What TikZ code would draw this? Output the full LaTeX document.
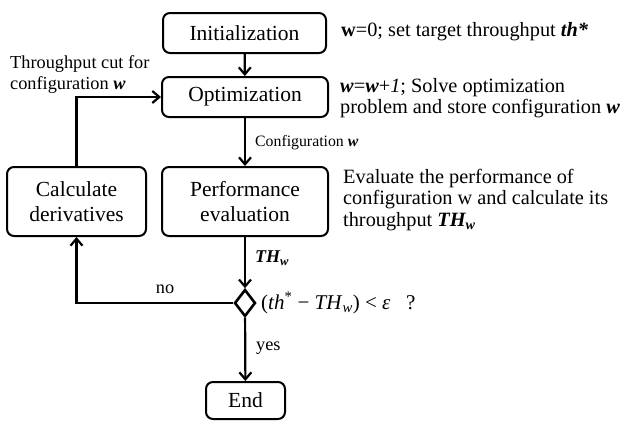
\documentclass[tikz,border=0pt]{standalone}
\usepackage{fix-cm}
\usepackage{fontspec}
\setmainfont{Liberation Serif}
\usetikzlibrary{arrows.meta,shapes.geometric}
\begin{document}
\begin{tikzpicture}[x=1pt,y=-1pt,
  box/.style={draw,line width=2pt,rounded corners=7pt,align=center,inner sep=0pt,font=\fontsize{21.5}{25}\selectfont},
  conn/.style={line width=2.2pt,-{Straight Barb[length=7pt,width=12pt]}},
  side/.style={anchor=west,align=left,inner sep=0pt,font=\fontsize{20.3}{21.5}\selectfont},
  lab/.style={inner sep=0pt,font=\fontsize{18.3}{21}\selectfont}]
\useasboundingbox (0,0) rectangle (622,421);
\node[box,minimum width=163pt,minimum height=40pt] (init) at (244.5,33) {Initialization};
\node[box,minimum width=166pt,minimum height=40pt] (opt) at (245,97) {Optimization};
\node[box,minimum width=166pt,minimum height=69pt] (perf) at (245,201.5) {Performance\\evaluation};
\node[box,minimum width=139pt,minimum height=69pt] (calc) at (76.5,201.5) {Calculate\\derivatives};
\node[draw,diamond,line width=2.6pt,minimum width=21pt,minimum height=27pt,inner sep=0pt] (dec) at (245,303) {};
\node[box,minimum width=79pt,minimum height=37pt] (end) at (245.5,400.5) {End};

\draw[conn] (init) -- (opt);
\draw[conn] (opt) -- (perf);
\draw[conn] (perf) -- (dec);
\draw[conn] (dec) -- (end);
\draw[conn] (dec.west) -| (calc.south);
\draw[conn] (calc.north) |- (opt.west);

\node[lab,anchor=west,font=\fontsize{15.8}{18}\selectfont] (lconf) at (255,143) {Configuration \textbf{\textit{w}}};
\node[lab,anchor=west,font=\fontsize{18}{20}\selectfont] (lth) at (255,258) {\textbf{\textit{TH\textsubscript{w}}}};
\node[lab,anchor=west] (lyes) at (256,348) {yes};
\node[lab] (lno) at (165,289) {no};
\node[lab,anchor=west,align=left] (lcut) at (10,75) {Throughput cut for\\configuration \textbf{\textit{w}}};
\node[lab,anchor=west,font=\fontsize{21}{22}\selectfont] (lcond) at (261,303) {(\textit{th}\textsuperscript{*} − \textit{TH}\textsubscript{\textit{w}}) < \textit{ε}\ \ \ ?};

\node[side] (s1) at (341,32) {\textbf{w}=0; set target throughput \textbf{\textit{th*}}};
\node[side] (s2) at (340,98) {\textbf{\textit{w}}=\textbf{\textit{w}}+\textit{1}; Solve optimization\\problem and store configuration \textbf{\textit{w}}};
\node[side] (s3) at (343,200) {Evaluate the performance of\\configuration w and calculate its\\throughput \textbf{\textit{TH\textsubscript{w}}}};
\end{tikzpicture}
\end{document}
